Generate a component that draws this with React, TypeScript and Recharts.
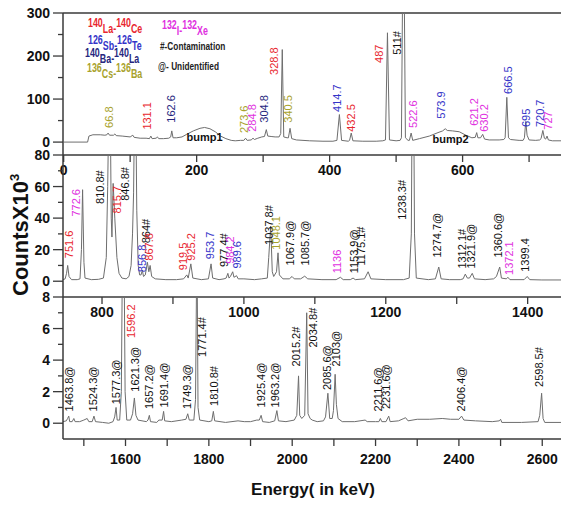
import React from 'react';
import { ComposedChart, Line, Scatter, XAxis, YAxis, ReferenceLine } from 'recharts';

const FONT = "'Liberation Sans', Arial, Helvetica, sans-serif";

const RED = '#e8262e';
const MAG = '#e030e0';
const BLUE = '#3434c8';
const NAVY = '#26267e';
const OLIVE = '#a8a22c';
const BLK = '#111111';

// ---------- spectrum, panel 1 (keV, counts x10^3) ----------
const spectrumLow: [number, number][] = [
  [0, 0], [36, 0], [38, 14], [44, 17], [55, 17], [62, 16], [65, 17], [66.8, 21], [69, 16], [75, 16], [77, 19], [79, 15],
  [88, 14], [100, 12], [104, 16], [106, 11], [115, 9], [124, 9], [129, 8], [131.1, 14], [133, 8], [139, 9], [141, 12],
  [143, 8], [150, 8], [158, 9], [161, 12], [162.6, 26], [164.5, 10], [170, 10], [178, 12], [185, 18], [195, 26], [205, 32],
  [212, 34], [220, 31], [228, 24], [236, 14], [244, 8], [252, 4], [258, 3], [266, 4], [271, 4], [273.6, 9], [276, 4],
  [282, 5], [284.8, 9], [287, 6], [292, 9], [298, 12], [302, 13], [304.8, 29], [307, 14], [312, 13], [318, 12], [324, 12],
  [326.5, 20], [328.8, 215], [331, 12], [336, 10], [338, 10], [340.5, 32], [343, 8], [350, 5], [370, 3], [390, 2], [405, 2],
  [411, 4], [414.7, 64], [418, 4], [428, 2], [430, 4], [432.5, 21], [435, 3], [450, 2], [470, 2], [480, 3], [484, 5],
  [487, 254], [490, 5], [500, 3], [506, 4], [508, 10], [511, 600], [514, 10], [518, 4], [520, 4], [522.6, 21], [525, 4],
  [535, 8], [550, 14], [563, 22], [570, 26], [573.9, 31], [577, 27], [585, 26], [595, 24], [605, 16], [614, 10], [619, 11],
  [621.2, 22], [623, 10], [627, 10], [630.2, 18], [633, 7], [640, 5], [655, 5], [662, 6], [664, 10], [666.5, 104], [669, 10],
  [672, 6], [685, 4], [691, 4], [693, 10], [695, 48], [697, 16], [700, 5], [710, 4], [716, 5], [718, 8], [720.7, 27],
  [723, 9], [725, 7], [727, 14], [729, 5], [735, 3], [748, 3],
];

// ---------- spectrum, panel 2 ----------
const spectrumMid: [number, number][] = [
  [745, 1], [748, 1.5], [750, 5], [751.6, 10], [753.5, 3], [757, 1], [765, 1], [769, 1.5], [771, 20], [772.6, 58],
  [774.5, 12], [776, 2], [785, 1], [795, 1.2], [802, 2], [806, 15], [808, 60], [810.8, 150], [813, 40], [814, 28],
  [815.7, 62], [818, 40], [821, 15], [824, 5], [828, 2], [834, 1.5], [838, 3], [841, 10], [843, 30], [844.5, 56],
  [846.8, 150], [849, 45], [851, 10], [853, 4], [855, 4], [856.8, 7], [858.5, 3], [861, 4], [864, 12], [866, 6],
  [867.8, 10], [870, 3], [875, 1.5], [890, 1], [905, 1], [915, 1.5], [919.5, 4], [921.5, 2], [925.2, 11], [928, 2],
  [940, 1], [950, 1.5], [953.7, 11], [956, 2], [965, 1], [972, 1.5], [975, 2], [977.4, 5], [979, 2], [981, 3],
  [984.2, 6], [986, 2.5], [989.6, 3.5], [992, 1.5], [1000, 1.5], [1015, 1], [1025, 1.5], [1033, 2], [1035, 15],
  [1037.8, 35], [1040, 6], [1042, 3], [1046, 6], [1048.1, 18], [1050, 4], [1055, 1.5], [1064, 1.5], [1067.9, 3],
  [1071, 1.5], [1080, 1.5], [1085.7, 3.2], [1090, 1.5], [1110, 1], [1130, 1], [1136, 2.5], [1140, 1], [1150, 1],
  [1153.9, 2], [1157, 1], [1170, 1.5], [1175.1, 6], [1179, 1.5], [1200, 1], [1225, 1], [1233, 2], [1236, 30],
  [1238.3, 200], [1240.5, 30], [1243, 2], [1260, 1], [1270, 1.5], [1274.7, 9], [1278, 1.5], [1290, 1], [1305, 1],
  [1309, 1.5], [1312.1, 4.5], [1315, 2], [1318, 2], [1321.9, 5], [1325, 1.5], [1340, 1], [1352, 1.5], [1356, 3],
  [1360.6, 9], [1363, 2], [1370, 1.5], [1372.1, 2.5], [1375, 1], [1395, 1], [1399.4, 3], [1403, 1], [1420, 0.8],
  [1447, 0.8],
];

// ---------- spectrum, panel 3 ----------
const spectrumHigh: [number, number][] = [
  [1450, 0.1], [1458, 0.15], [1461, 0.3], [1463.8, 0.45], [1466, 0.1], [1472, 0.1], [1476, 0.3], [1479, 0.1],
  [1490, 0.1], [1500, 0.2], [1508, 0.3], [1512, 0.1], [1520, 0.1], [1524.3, 0.45], [1528, 0.1], [1545, 0.05],
  [1560, 0], [1570, 0.1], [1574, 0.4], [1577.3, 1.0], [1580, 0.2], [1586, 0.2], [1590, 2], [1593, 12], [1596.2, 12],
  [1599, 2], [1603, 0.2], [1612, 0.2], [1617, 0.6], [1621.3, 1.6], [1625, 0.5], [1630, 0.2], [1650, 0.1], [1654, 0.2],
  [1657.2, 0.5], [1660, 0.1], [1675, 0.05], [1680, 0.2], [1688, 0.2], [1691.4, 0.75], [1694, 0.15], [1710, 0.1],
  [1735, 0.2], [1745, 0.25], [1749.3, 0.6], [1753, 0.2], [1764, 0.2], [1768, 1.5], [1771.4, 12], [1774, 1],
  [1778, 0.2], [1800, 0.1], [1807, 0.15], [1810.8, 0.75], [1814, 0.15], [1840, 0.05], [1870, 0.15], [1885, 0.1],
  [1900, 0.1], [1915, 0.2], [1921, 0.2], [1925.4, 0.5], [1929, 0.1], [1945, 0.05], [1958, 0.15], [1963.2, 0.8],
  [1967, 0.15], [1985, 0.1], [2005, 0.2], [2011, 0.5], [2015.2, 3.0], [2018, 0.5], [2023, 0.3], [2030, 0.5],
  [2034.8, 7.0], [2038, 0.6], [2043, 0.3], [2048, 0.2], [2060, 0.1], [2075, 0.15], [2080, 0.4], [2085.6, 1.9],
  [2090, 0.3], [2096, 0.3], [2099, 0.8], [2103, 3.1], [2106, 1.2], [2110, 0.3], [2120, 0.1], [2150, 0.1], [2175, 0.2],
  [2180, 0.1], [2200, 0.1], [2208, 0.1], [2211.6, 0.3], [2215, 0.1], [2225, 0.1], [2231.6, 0.45], [2235, 0.1],
  [2255, 0.15], [2268, 0.3], [2272, 0.35], [2278, 0.15], [2300, 0.25], [2330, 0.25], [2360, 0.3], [2380, 0.25],
  [2400, 0.25], [2406.4, 0.45], [2412, 0.2], [2440, 0.15], [2480, 0.1], [2497, 0.15], [2500, 0.25], [2503, 0.05],
  [2550, 0.05], [2590, 0.1], [2594, 0.5], [2598.5, 1.9], [2602, 0.3], [2606, 0.05], [2645, 0.05],
];

// ---------- peak annotations: text, keV anchor, counts at foot of text, colour ----------
const peaksLow: [string, number, number, string][] = [
  ['66.8', 69, 33, OLIVE], ['131.1', 126, 29, RED], ['162.6', 162, 45, NAVY], ['273.6', 271, 21, OLIVE],
  ['284.8', 283, 24, MAG], ['304.8', 301, 45, NAVY], ['328.8', 317, 156, RED], ['340.5', 338, 45, OLIVE],
  ['414.7', 412, 70, BLUE], ['432.5', 432, 24, RED], ['487', 475, 184, RED], ['511#', 501, 203, BLK],
  ['522.6', 525, 33, MAG], ['573.9', 568, 54, BLUE], ['621.2', 618, 38, MAG], ['630.2', 632, 24, MAG],
  ['666.5', 669, 112, BLUE], ['695', 695, 35, BLUE], ['720.7', 717, 35, BLUE], ['727', 728, 29, MAG],
];
const peaksMid: [string, number, number, string][] = [
  ['751.6', 753, 14.6, RED], ['772.6', 763, 41, MAG], ['810.8#', 797, 49, BLK], ['815.7', 821, 43, RED],
  ['846.8#', 833, 51, BLK], ['856.8', 856, 5.7, BLUE], ['864#', 862, 24, BLK], ['867.8', 867, 13, RED],
  ['919.5', 914, 7, RED], ['925.2', 925, 13, RED], ['953.7', 953, 14, BLUE], ['977.4#', 972, 9, BLK],
  ['984.2', 980, 11, MAG], ['989.6', 990, 8, BLUE], ['1037.8#', 1035, 23, BLK], ['1048.1', 1046, 20, OLIVE],
  ['1067.9@', 1065, 10, BLK], ['1085.7@', 1086, 10, BLK], ['1136', 1131, 5, MAG], ['1153.9@', 1155, 5, BLK],
  ['1175.1#', 1165, 10, BLK], ['1238.3#', 1223, 39, BLK], ['1274.7@', 1272, 15, BLK], ['1312.1#', 1307, 8, BLK],
  ['1321.9@', 1321, 8, BLK], ['1360.6@', 1358, 15, BLK], ['1372.1', 1374, 4, MAG], ['1399.4', 1396, 6, BLK],
];
const peaksHigh: [string, number, number, string][] = [
  ['1463.8@', 1465, 0.75, BLK], ['1524.3@', 1522, 0.75, BLK], ['1577.3@', 1578, 1.2, BLK], ['1596.2', 1614, 5.4, RED],
  ['1621.3@', 1623, 2.0, BLK], ['1657.2@', 1657, 0.9, BLK], ['1691.4@', 1693, 1.0, BLK], ['1749.3@', 1748, 0.9, BLK],
  ['1771.4#', 1784, 4.2, BLK], ['1810.8#', 1813, 1.1, BLK], ['1925.4@', 1926, 1.0, BLK], ['1963.2@', 1959, 1.0, BLK],
  ['2015.2#', 2010, 3.6, BLK], ['2034.8#', 2050, 4.8, BLK], ['2085.6@', 2084, 2.1, BLK], ['2103@', 2106, 3.6, BLK],
  ['2211.6@', 2206, 0.75, BLK], ['2231.6@', 2226, 0.9, BLK], ['2406.4@', 2406, 0.75, BLK], ['2598.5#', 2593, 2.3, BLK],
];
const bumpNotes: [string, number, number][] = [['bump1', 212, 3], ['bump2', 582, -1.6]];

// ---------- axes ----------
const xTicksLow = [0, 100, 200, 300, 400, 500, 600, 700];
const xTicksMid = [800, 900, 1000, 1100, 1200, 1300, 1400];
const xTicksHigh = [1500, 1600, 1700, 1800, 1900, 2000, 2100, 2200, 2300, 2400, 2500, 2600];
const yTicksLow = [0, 50, 100, 150, 200, 250, 300];
const yTicksMid = [0, 10, 20, 30, 40, 50, 60, 70, 80];
const yTicksHigh = [0, 1, 2, 3, 4, 5, 6, 7, 8];

const AXIS = '#3a3a3a';

const YTick = (p: any) => {
  const { x, y, payload, step } = p;
  const major = payload.value % step === 0;
  return (
    <g>
      <line x1={x - (major ? 10 : 5)} x2={x} y1={y} y2={y} stroke={AXIS} strokeWidth={1.3} />
      {major && (
        <text x={x - 13} y={y} dy="0.36em" textAnchor="end" fill="#111" fontSize={14} fontWeight={700} fontFamily={FONT}>
          {payload.value}
        </text>
      )}
    </g>
  );
};

const PeakLabel = (p: any) => {
  const { cx, cy, payload } = p;
  if (cx == null || cy == null) return <g />;
  return (
    <text x={cx} y={cy} transform={`rotate(-90 ${cx} ${cy})`} dy="0.35em" fill={payload.c} fontSize={11} fontFamily={FONT}>
      {payload.t}
    </text>
  );
};

const NoteLabel = (p: any) => {
  const { cx, cy, payload } = p;
  if (cx == null || cy == null) return <g />;
  return (
    <text x={cx} y={cy} textAnchor="middle" fill="#111" fontSize={11} fontWeight={700} fontFamily={FONT}>
      {payload.t}
    </text>
  );
};

type PanelProps = {
  top: number;
  spectrum: [number, number][];
  peaks: [string, number, number, string][];
  notes?: [string, number, number][];
  xDomain: [number, number];
  xTicks: number[];
  yDomain: [number, number];
  yTicks: number[];
  yStep: number;
  tickMargin: number;
  topLine?: number;
};

function Panel(props: PanelProps) {
  const line = props.spectrum.map(([x, y]) => ({ x, y }));
  const labels = props.peaks.map(([t, x, y, c]) => ({ x, y, t, c }));
  const notes = (props.notes || []).map(([t, x, y]) => ({ x, y, t }));
  return (
    <div style={{ position: 'absolute', left: 0, top: props.top }}>
      <ComposedChart width={561} height={200} margin={{ top: 13, right: 0, bottom: 0, left: 0 }}>
        <XAxis
          dataKey="x"
          type="number"
          domain={props.xDomain}
          ticks={props.xTicks}
          interval={0}
          allowDataOverflow
          height={45}
          tickSize={7}
          tickMargin={props.tickMargin}
          tickFormatter={(v: number) => (v % 200 === 0 ? String(v) : '')}
          axisLine={{ stroke: AXIS, strokeWidth: 1.5 }}
          tickLine={{ stroke: AXIS, strokeWidth: 1.3 }}
          tick={{ fill: '#111', fontSize: 14, fontWeight: 700, fontFamily: FONT }}
        />
        <YAxis
          dataKey="y"
          type="number"
          domain={props.yDomain}
          ticks={props.yTicks}
          interval={0}
          allowDataOverflow
          width={63}
          tickSize={0}
          tickMargin={0}
          tickLine={false}
          axisLine={{ stroke: AXIS, strokeWidth: 1.5 }}
          tick={(tp: any) => <YTick {...tp} step={props.yStep} />}
        />
        {props.topLine !== undefined && <ReferenceLine y={props.topLine} stroke={AXIS} strokeWidth={1.5} />}
        <Line data={line} dataKey="y" type="linear" stroke="#6e6e6e" strokeWidth={1} dot={false} activeDot={false} isAnimationActive={false} />
        <Scatter data={labels} dataKey="y" shape={PeakLabel} isAnimationActive={false} />
        {notes.length > 0 && <Scatter data={notes} dataKey="y" shape={NoteLabel} isAnimationActive={false} />}
      </ComposedChart>
    </div>
  );
}

// condensed legend text (horizontal squeeze like the reference)
const Iso = ({ x, y, color, a, b, c, d }: any) => (
  <g transform={`translate(${x},${y}) scale(0.74,1)`}>
    <text x={0} y={0} fill={color} fontSize={12} fontWeight={700} fontFamily={FONT}>
      <tspan dy={-6}>{a}</tspan>
      <tspan dy={6}>{b}</tspan>
      <tspan dy={-6}>{c}</tspan>
      <tspan dy={6}>{d}</tspan>
    </text>
  </g>
);

const Note = ({ x, y, text }: any) => (
  <g transform={`translate(${x},${y}) scale(0.72,1)`}>
    <text x={0} y={0} fill="#222" fontSize={11.5} fontWeight={700} fontFamily={FONT}>{text}</text>
  </g>
);

export default function App() {
  return (
    <div style={{ position: 'absolute', left: 0, top: 0, width: 561, height: 507, background: '#fff', overflow: 'hidden' }}>
      <Panel top={0} spectrum={spectrumLow} peaks={peaksLow} notes={bumpNotes} xDomain={[-1, 748]} xTicks={xTicksLow}
        yDomain={[-30, 300]} yTicks={yTicksLow} yStep={100} tickMargin={3} topLine={300} />
      <Panel top={142} spectrum={spectrumMid} peaks={peaksMid} xDomain={[745, 1447]} xTicks={xTicksMid}
        yDomain={[-10, 80]} yTicks={yTicksMid} yStep={20} tickMargin={3} />
      <Panel top={284} spectrum={spectrumHigh} peaks={peaksHigh} xDomain={[1450, 2645]} xTicks={xTicksHigh}
        yDomain={[-1, 8]} yTicks={yTicksHigh} yStep={2} tickMargin={8} />
      <svg width={561} height={507} style={{ position: 'absolute', left: 0, top: 0, pointerEvents: 'none' }}>
        <Iso x={88} y={33} color={RED} a="140" b="La-" c="140" d="Ce" />
        <Iso x={162} y={35} color={MAG} a="132" b="I-" c="132" d="Xe" />
        <Iso x={88} y={50} color={BLUE} a="126" b="Sb-" c="126" d="Te" />
        <Iso x={85} y={63} color={NAVY} a="140" b="Ba-" c="140" d="La" />
        <Iso x={87} y={78} color={OLIVE} a="136" b="Cs-" c="136" d="Ba" />
        <Note x={160} y={50} text="#-Contamination" />
        <Note x={158} y={70} text="@- Unidentified" />
        <text transform="translate(28,296) rotate(-90)" fill="#111" fontSize={22} fontWeight={700} fontFamily={FONT}>
          CountsX10<tspan dy={-9} fontSize={13}>3</tspan>
        </text>
        <text x={313} y={495} textAnchor="middle" fill="#111" fontSize={17} fontWeight={700} fontFamily={FONT}>
          Energy( in keV)
        </text>
      </svg>
    </div>
  );
}
